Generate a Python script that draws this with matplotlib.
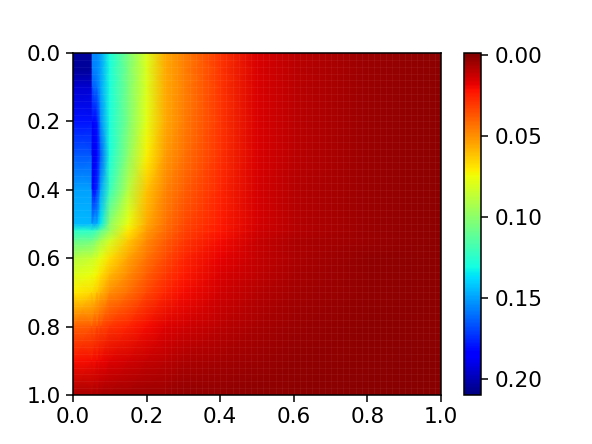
import numpy as np
import matplotlib
matplotlib.use("Agg")
import matplotlib.pyplot as plt

# grid positions
x_upper = [0.0, 0.05, 0.0525, 0.065, 0.075, 0.1, 0.15, 0.2, 0.25, 0.3, 0.4, 0.5, 0.6, 0.8, 1.0]
x_lower = [0.0, 0.05, 0.065, 0.075, 0.1, 0.15, 0.2, 0.25, 0.3, 0.4, 0.5, 0.6, 0.8, 1.0]
y_upper = [0.0, 0.05, 0.1, 0.2, 0.3, 0.4, 0.5, 0.52]
y_lower = [0.52, 0.55, 0.6, 0.65, 0.7, 0.8, 0.9, 1.0]

# values estimated from the colours, one row per y knot
row_00 = [.205, .205, .155, .155, .150, .130, .105, .080, .056, .047, .030, .016, .010, .004, .002]
row_05 = [.205, .205, .158, .155, .150, .130, .105, .080, .056, .047, .030, .016, .010, .004, .002]
row_10 = [.195, .195, .165, .160, .150, .130, .105, .080, .056, .047, .030, .016, .010, .004, .002]
row_20 = [.180, .180, .185, .180, .155, .130, .105, .078, .056, .046, .030, .016, .010, .004, .002]
row_30 = [.165, .165, .190, .185, .165, .130, .100, .072, .053, .044, .029, .016, .010, .004, .002]
row_40 = [.150, .150, .185, .175, .150, .122, .090, .062, .048, .040, .027, .015, .009, .004, .002]
row_50 = [.145, .145, .150, .148, .135, .100, .076, .056, .044, .035, .024, .015, .009, .004, .002]
row_52 = [.125, .125, .125, .120, .112, .097, .070, .053, .042, .033, .023, .014, .009, .004, .002]

row_52b = [.125, .125, .120, .112, .097, .070, .053, .042, .033, .023, .014, .009, .004, .002]
row_55 = [.110, .107, .100, .093, .082, .063, .049, .039, .031, .021, .013, .008, .004, .002]
row_60 = [.090, .085, .081, .077, .068, .055, .044, .035, .027, .018, .012, .008, .003, .002]
row_65 = [.080, .076, .073, .068, .059, .049, .039, .031, .024, .016, .011, .007, .003, .002]
row_70 = [.071, .067, .063, .059, .050, .043, .034, .027, .021, .014, .009, .006, .003, .002]
row_80 = [.040, .038, .036, .034, .030, .026, .021, .017, .014, .010, .007, .004, .002, .002]
row_90 = [.022, .021, .020, .019, .017, .014, .012, .010, .008, .006, .004, .003, .002, .001]
row_100 = [.007, .007, .007, .006, .006, .005, .004, .004, .003, .003, .002, .002, .001, .001]

upper = np.array([row_00, row_05, row_10, row_20, row_30, row_40, row_50, row_52])
lower = np.array([row_52b, row_55, row_60, row_65, row_70, row_80, row_90, row_100])

ax_ticks = [0.0, 0.2, 0.4, 0.6, 0.8, 1.0]
cbar_ticks = [0.00, 0.05, 0.10, 0.15, 0.20]

W, H = 592, 444
plt.rcParams["font.size"] = 15.6
plt.rcParams["axes.linewidth"] = 1.1
plt.rcParams["xtick.major.width"] = 1.1
plt.rcParams["ytick.major.width"] = 1.1
plt.rcParams["xtick.major.size"] = 5
plt.rcParams["ytick.major.size"] = 5

fig = plt.figure(figsize=(W / 100, H / 100), dpi=100)
ax = fig.add_axes([73 / W, 1 - 395 / H, 368 / W, 342 / H])
mesh = ax.pcolormesh(x_upper, y_upper, upper, shading="gouraud", cmap="jet_r",
                     vmin=-0.001, vmax=0.21)
ax.pcolormesh(x_lower, y_lower, lower, shading="gouraud", cmap="jet_r",
              vmin=-0.001, vmax=0.21)

# faint cell edges that show in the original mesh
ax.hlines(np.arange(0.02, 1.0, 0.02), 0, 1, color="white", lw=0.5, alpha=0.07)
ax.vlines(np.arange(0.25, 1.0, 0.0167), 0, 1, color="white", lw=0.5, alpha=0.07)

ax.set_xlim(0, 1)
ax.set_ylim(1, 0)
ax.set_xticks(ax_ticks)
ax.set_yticks(ax_ticks)

cax = fig.add_axes([463.5 / W, 1 - 395 / H, 17.5 / W, 342 / H])
cbar = fig.colorbar(mesh, cax=cax)
cbar.set_ticks(cbar_ticks)
cbar.ax.set_yticklabels(["0.00", "0.05", "0.10", "0.15", "0.20"])
cbar.ax.tick_params(pad=5)
cbar.ax.invert_yaxis()

fig.savefig("out.png", dpi=100)
